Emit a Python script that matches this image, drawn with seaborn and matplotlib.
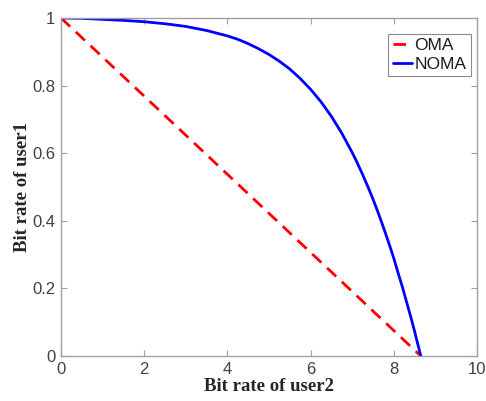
import matplotlib
matplotlib.use("Agg")
import matplotlib.pyplot as plt
import seaborn as sns
import pandas as pd

# OMA: straight line between the two single-user rates
oma_x = [0.0, 8.65]
oma_y = [1.0, 0.0]

# NOMA: capacity-region boundary
noma_x = [0.0, 0.5, 1.0, 1.5, 2.0, 2.5, 3.0, 3.5, 4.0, 4.25, 4.5, 4.75,
          5.0, 5.25, 5.5, 5.75, 6.0, 6.25, 6.5, 6.75, 7.0, 7.1, 7.25,
          7.4, 7.5, 7.6, 7.75, 7.9, 8.0, 8.1, 8.2, 8.3, 8.4, 8.5, 8.55,
          8.6, 8.65]
noma_y = [1.0, 0.999, 0.996, 0.993, 0.989, 0.983, 0.975, 0.963, 0.947,
          0.937, 0.924, 0.909, 0.892, 0.872, 0.849, 0.821, 0.789, 0.752,
          0.709, 0.659, 0.602, 0.577, 0.537, 0.494, 0.464, 0.432, 0.381,
          0.327, 0.289, 0.247, 0.207, 0.163, 0.119, 0.073, 0.048, 0.024,
          0.0]

x_ticks = [0, 2, 4, 6, 8, 10]
y_ticks = [0, 0.2, 0.4, 0.6, 0.8, 1]
x_ticklabels = ["0", "2", "4", "6", "8", "10"]
y_ticklabels = ["0", "0.2", "0.4", "0.6", "0.8", "1"]

sns.set_style("white")
plt.rcParams["font.family"] = ["Liberation Sans", "DejaVu Sans"]

fig = plt.figure(figsize=(4.86, 4.01), dpi=100)
ax = fig.add_axes([61 / 486, 1 - 356 / 401, 416 / 486, 338 / 401])

df_oma = pd.DataFrame({"x": oma_x, "y": oma_y})
df_noma = pd.DataFrame({"x": noma_x, "y": noma_y})

sns.lineplot(data=df_oma, x="x", y="y", ax=ax, color="#ff0000", lw=2.0,
             label="OMA", sort=False, estimator=None)
sns.lineplot(data=df_noma, x="x", y="y", ax=ax, color="#0000ff", lw=2.0,
             label="NOMA", sort=False, estimator=None)
ax.lines[0].set_dashes((4.5, 2.8))

ax.set_xlim(0, 10)
ax.set_ylim(0, 1)
ax.set_xticks(x_ticks)
ax.set_xticklabels(x_ticklabels)
ax.set_yticks(y_ticks)
ax.set_yticklabels(y_ticklabels)

spine_col = "#a0a0a0"
for s in ax.spines.values():
    s.set_visible(True)
    s.set_color(spine_col)
    s.set_linewidth(1.0)
ax.tick_params(direction="in", length=4, width=0.8, color=spine_col,
               top=True, right=True, bottom=True, left=True,
               labelsize=12, labelcolor="#404040", pad=4)

ax.set_xlabel("Bit rate of user2", family=["Liberation Serif", "DejaVu Serif"],
              fontweight="bold", fontsize=13.5, color="#262626", labelpad=1)
ax.set_ylabel("Bit rate of user1", family=["Liberation Serif", "DejaVu Serif"],
              fontweight="bold", fontsize=13.5, color="#262626", labelpad=1)

leg = ax.legend(loc="upper right", bbox_to_anchor=(0.985, 0.953),
                borderaxespad=0, fontsize=12.5, handlelength=1.1,
                handletextpad=0.15, fancybox=False, framealpha=1,
                edgecolor="#8a8a8a", borderpad=0.25, labelspacing=0.2)
leg.get_frame().set_linewidth(0.8)
for t in leg.get_texts():
    t.set_color("#1a1a1a")

fig.savefig("out.png", dpi=100)
